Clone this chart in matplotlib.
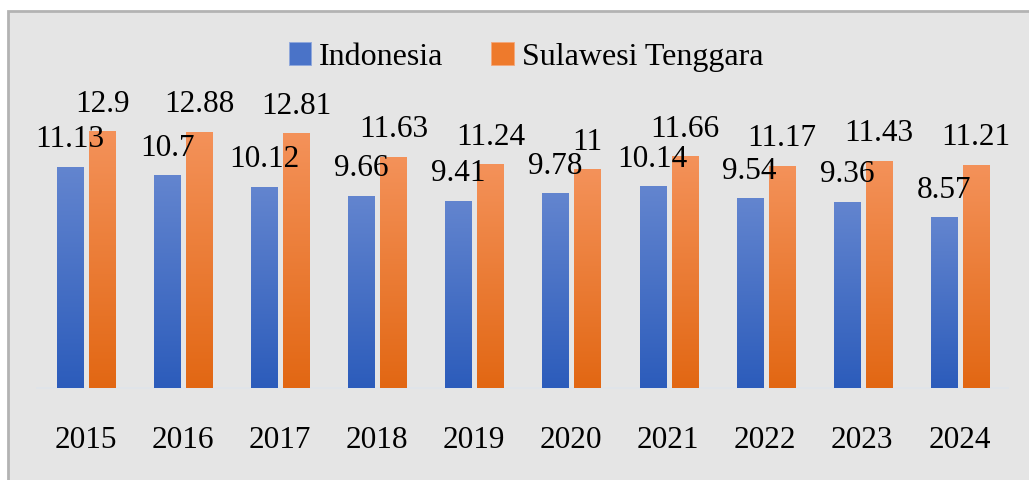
import numpy as np
import matplotlib
matplotlib.use('Agg')
import matplotlib.pyplot as plt
from matplotlib.patches import Rectangle
from matplotlib.colors import LinearSegmentedColormap

# data
years = ['2015', '2016', '2017', '2018', '2019', '2020', '2021', '2022', '2023', '2024']
indonesia = [11.13, 10.7, 10.12, 9.66, 9.41, 9.78, 10.14, 9.54, 9.36, 8.57]
sultra = [12.9, 12.88, 12.81, 11.63, 11.24, 11, 11.66, 11.17, 11.43, 11.21]

plt.rcParams['font.family'] = ['Liberation Serif', 'DejaVu Serif']
FS = 22.5

blue_cmap = LinearSegmentedColormap.from_list('b', ['#2c5cbb', '#6385cf'])
orange_cmap = LinearSegmentedColormap.from_list('o', ['#e26713', '#f4925a'])

fig = plt.figure(figsize=(10.29, 4.8), dpi=100, facecolor='white')

# grey panel with border
panel = Rectangle((8 / 1029, -0.05), 1.1, 1 - 11 / 480 + 0.05, transform=fig.transFigure,
                  facecolor='#e5e5e5', edgecolor='#b3b3b3', linewidth=2, zorder=-5)
fig.patches.append(panel)

ax = fig.add_axes([37 / 1029, 92 / 480, 971 / 1029, 318 / 480])
ax.set_facecolor('none')
ymax = 318 / 19.9

x = np.arange(len(years))
w = 0.27
grad = np.linspace(0, 1, 256).reshape(-1, 1)

def draw_bars(xs, vals, cmap, color):
    bars = ax.bar(xs, vals, width=w, color=color, zorder=2)
    for b in bars:
        x0, h = b.get_x(), b.get_height()
        im = ax.imshow(grad, cmap=cmap, aspect='auto', origin='lower',
                       extent=[x0, x0 + w, 0, h], zorder=3, vmin=0, vmax=1)
        im.set_clip_path(b)
    for xi, v in zip(xs, vals):
        ax.annotate(f'{v:g}', (xi, v), xytext=(0, 14), textcoords='offset points',
                    ha='center', va='baseline', fontsize=FS, color='black', zorder=5)
    return bars

draw_bars(x - 0.16, indonesia, blue_cmap, '#4472c4')
draw_bars(x + 0.17, sultra, orange_cmap, '#ed7d31')
ax.set_xlim(-0.5, len(years) - 0.5)
ax.set_ylim(0, ymax)

for s in ['top', 'right', 'left']:
    ax.spines[s].set_visible(False)
ax.spines['bottom'].set_color('#dfe4ea')
ax.spines['bottom'].set_linewidth(1.2)
ax.set_yticks([])
ax.set_xticks(x)
ax.set_xticklabels(years, fontsize=FS)
ax.tick_params(axis='x', length=0, pad=27)

handles = [Rectangle((0, 0), 1, 1, facecolor='#4a73c8', edgecolor='#8fa8dc', lw=0.6),
           Rectangle((0, 0), 1, 1, facecolor='#ee7a2c', edgecolor='#f4a77a', lw=0.6)]
fig.legend(handles, ['Indonesia', 'Sulawesi Tenggara'], loc='center',
           bbox_to_anchor=(0.511, 1 - 57 / 480), ncol=2, frameon=False,
           fontsize=23, handlelength=0.7, handleheight=0.7, handletextpad=0.25,
           columnspacing=1.5)

fig.savefig('out.png', dpi=100, facecolor=fig.get_facecolor())
